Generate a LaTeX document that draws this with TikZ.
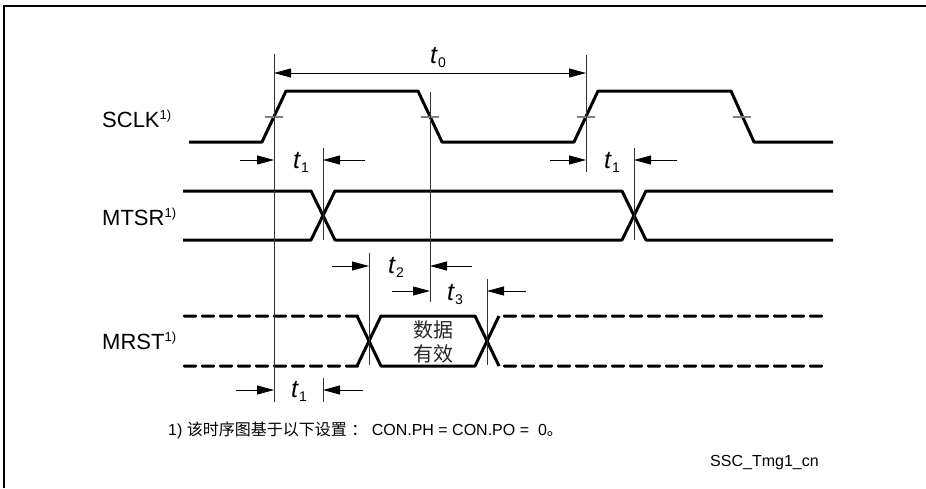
\documentclass[tikz,border=0pt]{standalone}
\usepackage{fontspec}
\setmainfont{Liberation Sans}
\newfontfamily\cjk{Noto Sans CJK SC}
\usepackage{tikz}
\usetikzlibrary{arrows.meta}

\newcommand{\fnmark}{\raisebox{8pt}{\fontsize{13}{13}\selectfont 1)}}
\newcommand{\tsub}[1]{\textit{t}\raisebox{-4pt}{\fontsize{14}{14}\selectfont #1}}

\tikzset{
  sig/.style={line width=3pt, line join=round},
  sigdash/.style={fill=black, rounded corners=1.2pt},
  guide/.style={line width=0.8pt, black!80},
  tickmark/.style={line width=1.2pt, black!50},
  dim/.style={line width=0.8pt, -{Triangle[length=17pt,width=9pt]}},
  sigtext/.style={anchor=base west, inner sep=0pt, font=\fontsize{22}{26}\selectfont},
  timetext/.style={anchor=base west, inner sep=0pt, font=\fontsize{25}{28}\selectfont},
  notetext/.style={anchor=base west, inner sep=0pt, font=\fontsize{16}{18}\selectfont}
}

\begin{document}
\begin{tikzpicture}[x=1pt, y=-1pt]
        \useasboundingbox (0,0) rectangle (926,488);
        % frame
        \draw[line width=1.5pt] (4,488) -- (4,6) -- (926,6);

        % signal names
        \node[sigtext] (sclk) at (102,127) {SCLK\fnmark};
        \node[sigtext] (mtsr) at (102,225) {MTSR\fnmark};
        \node[sigtext] (mrst) at (102,349) {MRST\fnmark};

        % SCLK
        \draw[sig] (189,142) -- (262,142) -- (286,91) -- (418,91) -- (442,142) -- (574,142) -- (598,91) -- (731,91) -- (754,142) -- (833,142);
        \foreach \x in {274,430,586,742} {
          \draw[tickmark] (\x-9,117) -- (\x+9,117);
        }

        % MTSR
        \draw[sig] (183,191) -- (311,191) -- (335,240) -- (622,240) -- (646,191) -- (833,191);
        \draw[sig] (183,240) -- (311,240) -- (335,191) -- (622,191) -- (646,240) -- (833,240);

        % MRST
        \foreach \x in {183,201,...,345,503,521,...,819} {
          \path[sigdash] (\x,314.5) rectangle (\x+14,317.5);
          \path[sigdash] (\x,364.5) rectangle (\x+14,367.5);
        }
        \draw[sig] (357,316) -- (381,366) -- (475,366) -- (499,316);
        \draw[sig] (357,366) -- (381,316) -- (475,316) -- (499,366);
        \node[align=center, inner sep=0pt, text=black!85, font=\cjk\fontsize{20}{24}\selectfont] (data) at (433,342) {数据\\有效};

        % guide lines
        \foreach \n/\x/\ya/\yb in {1/274/54/402, 2/430/92/302, 3/586/55/172, 4/323/148/240, 5/634/148/240, 6/369/253/365, 7/487/279/365, 8/323/378/402} {
          \coordinate (V\n a) at (\x,\ya);
          \coordinate (V\n b) at (\x,\yb);
          \draw[guide] (V\n a) -- (V\n b);
        }

        % t0
        \coordinate (P0a) at (274,73);
        \coordinate (P0b) at (586,73);
        \draw[dim, {Triangle[length=17pt,width=9pt]}-{Triangle[length=17pt,width=9pt]}] (P0a) -- (P0b);
        \node[timetext] (t0) at (430,63) {\tsub{0}};

        % dimension arrows
        \foreach \n/\xa/\xb/\y in {1/240/274/160, 2/365/323/160, 3/550/586/160, 4/677/634/160, 5/332/369/266, 6/472/430/266, 7/392/430/291, 8/526/487/291, 9/236/274/390, 10/363/323/390} {
          \coordinate (D\n a) at (\xa,\y);
          \coordinate (D\n b) at (\xb,\y);
          \draw[dim] (D\n a) -- (D\n b);
        }
        \node[timetext] (t1a) at (293,168) {\tsub{1}};
        \node[timetext] (t1b) at (604,168) {\tsub{1}};
        \node[timetext] (t2) at (388,273) {\tsub{2}};
        \node[timetext] (t3) at (447,300) {\tsub{3}};
        \node[timetext] (t1c) at (291,397) {\tsub{1}};

        % notes
        \node[notetext] (note) at (168,435) {1) {\cjk 该时序图基于以下设置} {\cjk ：} CON.PH = CON.PO =~~0{\cjk 。}};
        \node[notetext] (fig) at (710,466) {SSC\_Tmg1\_cn};
    \end{tikzpicture}
\end{document}
